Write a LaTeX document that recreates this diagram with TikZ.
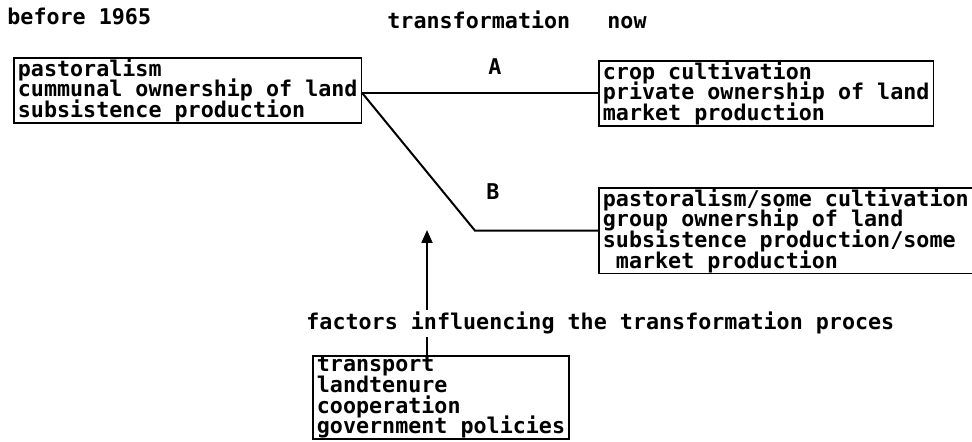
\documentclass[tikz,border=0pt]{standalone}
\usepackage{fontspec}
\setmonofont{DejaVu Sans Mono}
\usetikzlibrary{arrows.meta}
\newcommand{\listFont}[0]{\ttfamily\bfseries\fontsize{10.85}{10.3}\selectfont\lineskiplimit=-6pt}
\newcommand{\linkWidth}[0]{1pt}

\begin{document}
\begin{tikzpicture}[x=0.5pt, y=-0.5pt]
  \tikzset{every node/.style={font=\listFont, inner sep=0pt},
    listBox/.style={draw, line width=0.9pt, align=left, anchor=north west,
      inner xsep=2pt, inner ysep=0.4pt},
    link/.style={line width=\linkWidth}}
  \useasboundingbox (0,0) rectangle (972,442);
  \node[anchor=base west] (before) at (7,25) {before 1965};
  \node[anchor=base west] (trans) at (387,29) {transformation};
  \node[anchor=base west] (now) at (607,29) {now};
  \node[listBox] (past) at (13,57)
    {pastoralism\\cummunal ownership of land\\subsistence production};
  \node[listBox] (crop) at (598,60)
    {crop cultivation\\private ownership of land\\market production};
  \node[listBox] (group) at (598,187)
    {pastoralism/some cultivation\\group ownership of land\\subsistence production/some\\\ market production};
  \node[anchor=base] (pathA) at (495,75) {A};
  \node[anchor=base] (pathB) at (493,200) {B};
  \node[anchor=base west, inner sep=1pt] (factors) at (304,330)
    {factors influencing the transformation proces};
  \node[listBox] (factorList) at (312,355)
    {transport\\landtenure\\cooperation\\government policies};
  \coordinate (fork) at (crop.west -| past.east);
  \coordinate (bend) at (group.west -| 475,0);
  \coordinate (tip) at (427,230);
  \draw[link] (fork) -- (crop.west);
  \draw[link] (fork) -- (bend) -- (group.west);
  \draw[link, -{Triangle[length=6.5pt, width=5.5pt]}] (factors.north -| tip) -- (tip);
  \draw[link] (factors.south -| tip) -- (factorList.north -| tip);
\end{tikzpicture}
\end{document}
